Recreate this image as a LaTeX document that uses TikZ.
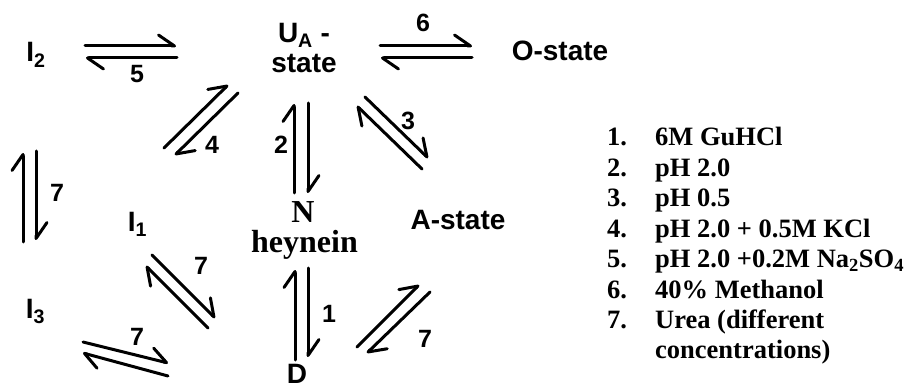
\documentclass[tikz,border=0pt]{standalone}
\usepackage{fontspec}
\setmainfont{Liberation Serif}
\setsansfont{Liberation Sans}
\usetikzlibrary{arrows.meta}
\tikzset{
  harp/.style={line width=3pt, line cap=round,
    -{Straight Barb[left,length=16pt,width=22pt,line cap=round,line join=round]}},
  lab/.style={font=\sffamily\bfseries\fontsize{28}{30}\selectfont, inner sep=0pt, anchor=base},
  num/.style={font=\sffamily\bfseries\fontsize{25}{27}\selectfont, inner sep=0pt, anchor=base},
  ser/.style={font=\rmfamily\bfseries\fontsize{32}{34}\selectfont, inner sep=0pt, anchor=base},
  lstn/.style={font=\rmfamily\bfseries\fontsize{26.5}{28}\selectfont, inner sep=0pt, anchor=base west},
}
\begin{document}
\begin{tikzpicture}[x=1pt,y=-1pt]
\useasboundingbox (0,0) rectangle (904,387);
% states
\node[lab] (I2) at (36,62) {I\textsubscript{2}};
\node[lab] (UA) at (304,43) {U\textsubscript{A} -};
\node[lab] (UAs) at (304,73) {state};
\node[lab] (O) at (560,61) {O-state};
\node[lab] (I1) at (137.5,232) {I\textsubscript{1}};
\node[ser] (N) at (303,223) {N};
\node[ser] (Nh) at (304.5,252) {heynein};
\node[lab] (A) at (458,230) {A-state};
\node[lab] (I3) at (35.5,318) {I\textsubscript{3}};
\node[lab] (D) at (297,383) {D};
% harpoon end points
\coordinate (a5a) at (85,46);   \coordinate (a5b) at (176,46);
\coordinate (a5c) at (177,58);  \coordinate (a5d) at (86,58);
\coordinate (a6a) at (380,46);  \coordinate (a6b) at (472,46);
\coordinate (a6c) at (472,58);  \coordinate (a6d) at (381,58);
\coordinate (a4a) at (164,148); \coordinate (a4b) at (228,85);
\coordinate (a4c) at (238,93);  \coordinate (a4d) at (175,155);
\coordinate (a2a) at (294,193); \coordinate (a2b) at (294,104);
\coordinate (a2c) at (308,103); \coordinate (a2d) at (308,193);
\coordinate (a1a) at (295,360); \coordinate (a1b) at (295,270);
\coordinate (a1c) at (308,268); \coordinate (a1d) at (308,357);
\coordinate (a3a) at (365,97);  \coordinate (a3b) at (428,158);
\coordinate (a3c) at (422,169); \coordinate (a3d) at (357,106);
\coordinate (b7a) at (23,242);  \coordinate (b7b) at (23,153);
\coordinate (b7c) at (36,151);  \coordinate (b7d) at (36,240);
\coordinate (c7a) at (152,255); \coordinate (c7b) at (215,318);
\coordinate (c7c) at (208,328); \coordinate (c7d) at (146,266);
\coordinate (d7a) at (83,342);  \coordinate (d7b) at (168,363);
\coordinate (d7c) at (168,376); \coordinate (d7d) at (83,353);
\coordinate (e7a) at (357,347); \coordinate (e7b) at (419,285);
\coordinate (e7c) at (430,292); \coordinate (e7d) at (367,353);
\foreach \p in {a5,a6,a4,a2,a1,a3,b7,c7,d7,e7}{
  \draw[harp] (\p a) -- (\p b);
  \draw[harp] (\p c) -- (\p d);
}
% condition labels
\node[num] (n5) at (137,83) {5};
\node[num] (n6) at (423,32) {6};
\node[num] (n4) at (212,154) {4};
\node[num] (n2) at (281,154) {2};
\node[num] (n3) at (408,130) {3};
\node[num] (n7a) at (57,202) {7};
\node[num] (n7b) at (201,274) {7};
\node[num] (n7c) at (137,345) {7};
\node[num] (n1) at (329,322) {1};
\node[num] (n7d) at (425,347) {7};
% legend
\node[lstn] (k1) at (607,146) {1.};
\node[lstn] (t1) at (655,146) {6M GuHCl};
\node[lstn] (k2) at (607,176.4) {2.};
\node[lstn] (t2) at (655,176.4) {pH 2.0};
\node[lstn] (k3) at (607,206.8) {3.};
\node[lstn] (t3) at (655,206.8) {pH 0.5};
\node[lstn] (k4) at (607,237.2) {4.};
\node[lstn] (t4) at (655,237.2) {pH 2.0 + 0.5M KCl};
\node[lstn] (k5) at (607,267.6) {5.};
\node[lstn] (t5) at (655,267.6) {pH 2.0 +0.2M Na\textsubscript{2}SO\textsubscript{4}};
\node[lstn] (k6) at (607,298) {6.};
\node[lstn] (t6) at (655,298) {40\% Methanol};
\node[lstn] (k7) at (607,328.4) {7.};
\node[lstn] (t7) at (655,328.4) {Urea (different};
\node[lstn] (t8) at (655,358.8) {concentrations)};
\end{tikzpicture}
\end{document}
